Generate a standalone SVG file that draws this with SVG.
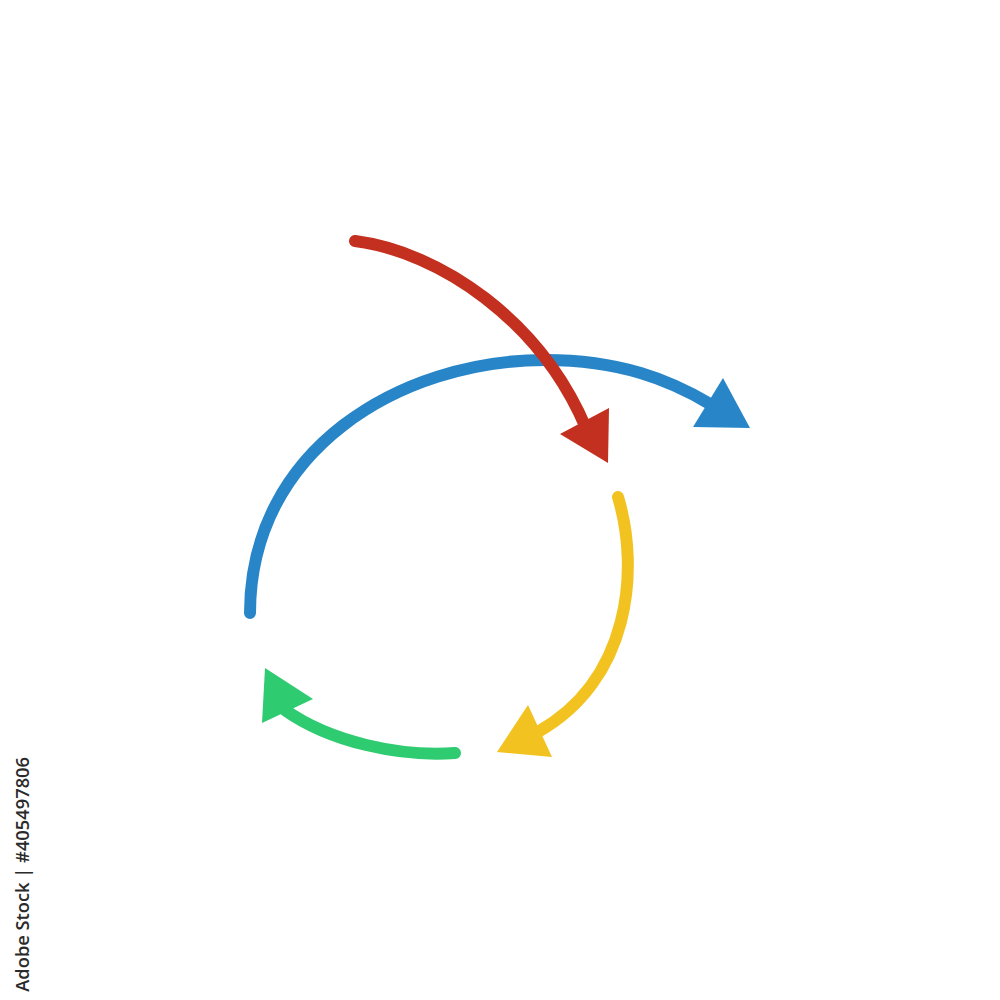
<svg xmlns="http://www.w3.org/2000/svg" width="1000" height="1000" viewBox="0 0 1000 1000">
  <style>
    .arc { fill: none; stroke-width: 12; stroke-linecap: round; }
    .wm { font-family: "Open Sans", "Liberation Sans", sans-serif; font-size: 18.3px; font-weight: 600; fill: #2a2a2a; }
  </style>
  <rect width="1000" height="1000" fill="#ffffff"/>
  <g id="connectors">
    <g id="blue-arrow">
      <path class="arc" stroke="#2886C8" d="M250,613 C250,450 400,360 545,360 C620,360 670,380 710,404"/>
      <polygon fill="#2886C8" points="723,378 693,427 750,428"/>
    </g>
    <g id="red-arrow">
      <path class="arc" stroke="#C4301F" d="M355,241 C440,252 540,320 586,428"/>
      <polygon fill="#C4301F" points="560,434 609,408 608,463"/>
    </g>
    <g id="yellow-arrow">
      <path class="arc" stroke="#F2C320" d="M618,497 C640,570 630,680 538,732"/>
      <polygon fill="#F2C320" points="528,705 552,757 497,752"/>
    </g>
    <g id="green-arrow">
      <path class="arc" stroke="#2ECB70" d="M455,753 C400,757 330,742 285,710"/>
      <polygon fill="#2ECB70" points="265,668 313,699 262,723"/>
    </g>
  </g>
  <text class="wm" transform="translate(29,757) rotate(-90)" text-anchor="end">Adobe Stock | #405497806</text>
</svg>
